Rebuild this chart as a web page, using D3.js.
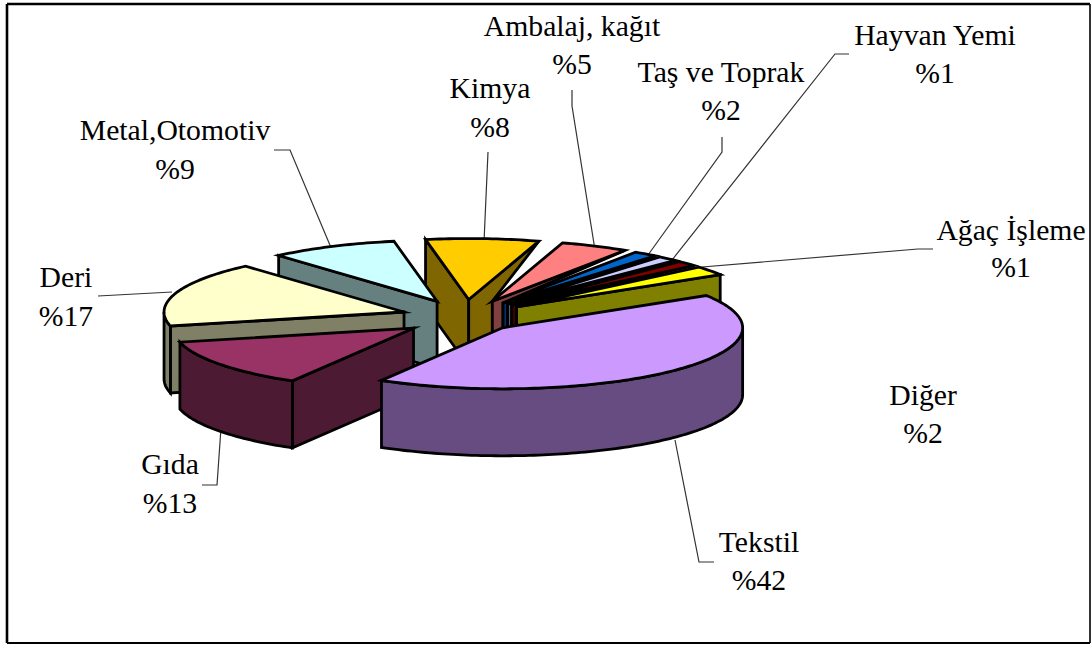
<!DOCTYPE html>
<html>
<head>
<meta charset="utf-8">
<script src="https://cdn.jsdelivr.net/npm/d3@7"></script>
<style>
  html, body { margin: 0; padding: 0; background: #fff; }
  svg { display: block; }
  text { font-family: "Liberation Serif", serif; font-size: 29.7px; fill: #000; text-anchor: middle; }
</style>
</head>
<body>
<div id="vis"></div>
<script>
// slices clockwise, starting from the first one after Kimya
const categories = ["Ambalaj, kağıt", "Taş ve Toprak", "Hayvan Yemi", "Ağaç İşleme", "Diğer", "Tekstil", "Gıda", "Deri", "Metal,Otomotiv", "Kimya"];
const percents = [4.6, 1.6, 1.4, 1.4, 2.4, 42.3, 12.9, 17.2, 8.6, 7.6];
// how far each slice is pulled out, 1 = full
const explosion = [1, 1, 1, 1, 1, 0.82, 1, 1, 1, 1];
const topColors = ["#ff8080", "#0066cc", "#ccccff", "#800000", "#ffff00", "#cc99ff", "#993366", "#ffffcc", "#ccffff", "#ffcc00"];
const wallColors = ["#804040", "#003366", "#666680", "#400000", "#808000", "#664c80", "#4d1a33", "#808066", "#668080", "#806600"];
// back slices first, Tekstil sits on top of everything
const drawOrder = ["Kimya", "Ambalaj, kağıt", "Taş ve Toprak", "Hayvan Yemi", "Ağaç İşleme", "Diğer", "Metal,Otomotiv", "Deri", "Gıda", "Tekstil"];

// label centre x, first baseline, second baseline
const labelSpots = [[572, 36, 74], [721, 82, 120], [935, 45, 83], [1011, 240, 277], [923, 405, 443], [759, 552, 590], [170, 474, 513], [66, 287, 326], [175, 140, 179], [490, 98, 137]];
const leaders = [
  [[572, 90], [572, 106], [595, 250]],
  [[722, 137], [722, 152], [648, 255]],
  [[849, 54], [835, 54], [672, 260]],
  [[933, 249], [918, 249], [690, 268]],
  [],
  [[714, 562], [699, 562], [675, 440]],
  [[202, 485], [217, 485], [221, 428]],
  [[98, 296], [172, 292]],
  [[274, 150], [290, 150], [332, 250]],
  [[488, 152], [484, 242]]
];

const width = 1092, height = 645;
const center = { x: 465, y: 317.5 };
const depth = 67;
const startDeg = 17;

const svg = d3.select("#vis").append("svg").attr("width", width).attr("height", height);

// frame, right and bottom come out thinner in the source
const frame = [[7, 4, 7, 643, 2.6], [7, 4, 1090, 4, 2.6], [1090, 4, 1090, 643, 1.6], [7, 643, 1090, 643, 2]];
svg.append("g").selectAll("line")
  .data(frame)
  .enter()
  .append("line")
  .attr("x1", (d) => d[0]).attr("y1", (d) => d[1])
  .attr("x2", (d) => d[2]).attr("y2", (d) => d[3])
  .attr("stroke", "#000")
  .attr("stroke-width", (d) => d[4]);

// ground plane -> screen offsets
const sx = d3.scaleLinear().domain([-1, 1]).range([-240, 240]);
const sy = d3.scaleLinear().domain([-1, 1]).range([61, -61]);
// pull-out distance
const ex = d3.scaleLinear().domain([-1, 1]).range([-64, 64]);
const ey = d3.scaleLinear().domain([-1, 1]).range([18, -18]);

const start = startDeg * Math.PI / 180;
const slices = d3.pie().sort(null).startAngle(start).endAngle(start + 2 * Math.PI)(percents);

slices.forEach((s, i) => {
  const mid = (s.startAngle + s.endAngle) / 2;
  s.apex = [center.x + ex(Math.sin(mid) * explosion[i]), center.y + ey(Math.cos(mid) * explosion[i])];
});

const rim = (s, a, z) => [s.apex[0] + sx(Math.sin(a)), s.apex[1] + sy(Math.cos(a)) + z];
const down = (p) => [p[0], p[1] + depth];
const arcPoints = (s, a0, a1, z) => {
  const n = Math.max(2, Math.ceil((a1 - a0) / 0.02));
  return d3.range(n + 1).map((i) => rim(s, a0 + (a1 - a0) * i / n, z));
};
const line = d3.line();

const polygon = (pts, fill) => {
  pie.append("path")
    .attr("d", line(pts) + "Z")
    .attr("fill", fill)
    .attr("stroke", "#000")
    .attr("stroke-width", 2.8)
    .attr("stroke-linejoin", "miter")
    .attr("stroke-miterlimit", 8);
};

// leader lines go under the pie
svg.append("g").selectAll("path")
  .data(leaders.filter((d) => d.length))
  .enter()
  .append("path")
  .attr("d", (d) => line(d))
  .attr("fill", "none")
  .attr("stroke", "#333")
  .attr("stroke-width", 1.2);

const pie = svg.append("g").attr("class", "pie");

drawOrder.forEach((name, k) => {
  const i = categories.indexOf(name);
  const s = slices[i];
  const wall = wallColors[i];
  const next = slices[(i + 1) % slices.length];

  // flat cut faces, only the ones turned to the viewer
  if (Math.sin(s.startAngle) < 0) {
    const o = rim(s, s.startAngle, 0);
    polygon([s.apex, o, down(o), down(s.apex)], wall);
  }
  if (Math.sin(s.endAngle) > 0) {
    const o = rim(s, s.endAngle, 0);
    if (drawOrder[k + 1] === categories[(i + 1) % slices.length]) {
      // wall stops at the neighbour's tip, leaves the white gap
      polygon([s.apex, o, next.apex, down(next.apex), down(s.apex)], wall);
    } else {
      polygon([s.apex, o, down(o), down(s.apex)], wall);
    }
  }

  // curved outer wall, front half of the ellipse only
  const a0 = Math.max(s.startAngle, Math.PI / 2);
  const a1 = Math.min(s.endAngle, 3 * Math.PI / 2);
  if (a1 > a0) {
    polygon(arcPoints(s, a0, a1, 0).concat(arcPoints(s, a0, a1, depth).reverse()), wall);
  }

  // top
  polygon([s.apex].concat(arcPoints(s, s.startAngle, s.endAngle, 0)), topColors[i]);
});

// labels
categories.forEach((name, i) => {
  const [x, y1, y2] = labelSpots[i];
  svg.append("text").attr("x", x).attr("y", y1).text(name);
  svg.append("text").attr("x", x).attr("y", y2).text("%" + Math.round(percents[i]));
});
</script>
</body>
</html>
